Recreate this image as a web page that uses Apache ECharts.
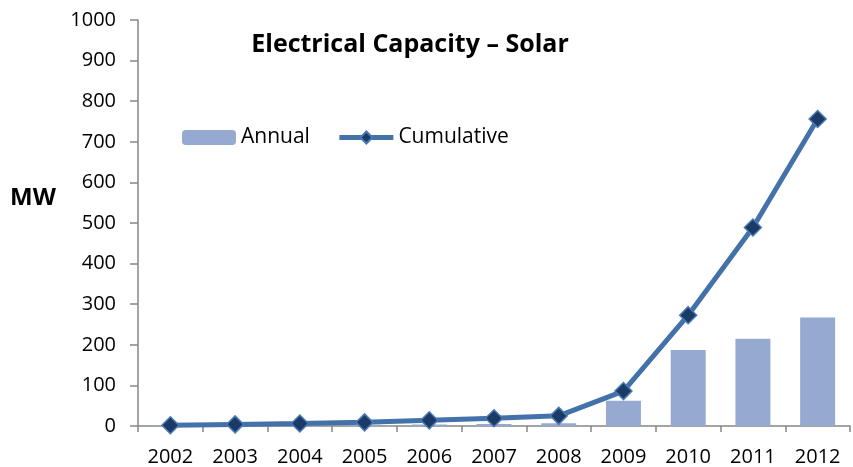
<!DOCTYPE html>
<html>
<head>
<meta charset="utf-8">
<script src="https://cdn.jsdelivr.net/npm/echarts@6/dist/echarts.min.js"></script>
<style>
  html, body { margin: 0; padding: 0; background: #fff; }
  #chart { width: 853px; height: 467px; }
</style>
</head>
<body>
<div id="chart"></div>
<script>
// data
const years = ['2002', '2003', '2004', '2005', '2006', '2007', '2008', '2009', '2010', '2011', '2012'];
const annual = [2, 2, 2, 3, 4, 5, 7, 62, 187, 215, 267];
const cumulative = [2, 4, 6, 9, 14, 19, 25, 86, 273, 489, 756];

const font = '"Open Sans", "Liberation Sans", sans-serif';
const axisGrey = '#868686';
const lineBlue = '#4371A9';

const chart = echarts.init(document.getElementById('chart'));

chart.setOption({
    animation: false,
    backgroundColor: '#fff',
    textStyle: { fontFamily: font },
    title: {
        text: 'Electrical Capacity – Solar',
        left: 405,
        top: 27,
        textAlign: 'center',
        textStyle: { fontSize: 25, fontWeight: 'bold', color: '#000', fontFamily: font }
    },
    legend: {
        left: 182,
        top: 127,
        padding: 0,
        itemGap: 27,
        itemWidth: 54,
        itemHeight: 15,
        textStyle: { fontSize: 21, color: '#000', fontFamily: font },
        data: [
            { name: 'Annual' },
            { name: 'Cumulative', lineStyle: { width: 5, color: lineBlue } }
        ]
    },
    graphic: [{
        type: 'text',
        left: 10,
        top: 186,
        style: { text: 'MW', fontSize: 24, fontWeight: 'bold', fill: '#000', fontFamily: font }
    }],
    grid: { left: 138, right: 3, top: 20, bottom: 41 },
    xAxis: {
        type: 'category',
        data: years,
        boundaryGap: true,
        axisLine: { lineStyle: { color: axisGrey, width: 1.5 } },
        axisTick: { show: true, length: 6, lineStyle: { color: axisGrey, width: 1.5 } },
        axisLabel: { fontSize: 20, color: '#000', margin: 21 }
    },
    yAxis: {
        type: 'value',
        min: 0,
        max: 1000,
        interval: 100,
        splitLine: { show: false },
        axisLine: { show: true, lineStyle: { color: axisGrey, width: 1.5 } },
        axisTick: { show: true, length: 8, lineStyle: { color: axisGrey, width: 1.5 } },
        axisLabel: { fontSize: 20, color: '#000', margin: 22, formatter: v => String(v) }
    },
    series: [
        {
            name: 'Annual',
            type: 'bar',
            data: annual,
            barCategoryGap: '46%',
            itemStyle: { color: '#95A9D1' }
        },
        {
            name: 'Cumulative',
            type: 'line',
            data: cumulative,
            symbol: 'diamond',
            symbolSize: 17,
            lineStyle: { color: lineBlue, width: 5 },
            itemStyle: { color: '#1B3A66', borderColor: '#4A7AB5', borderWidth: 1.5 }
        }
    ]
});
</script>
</body>
</html>
